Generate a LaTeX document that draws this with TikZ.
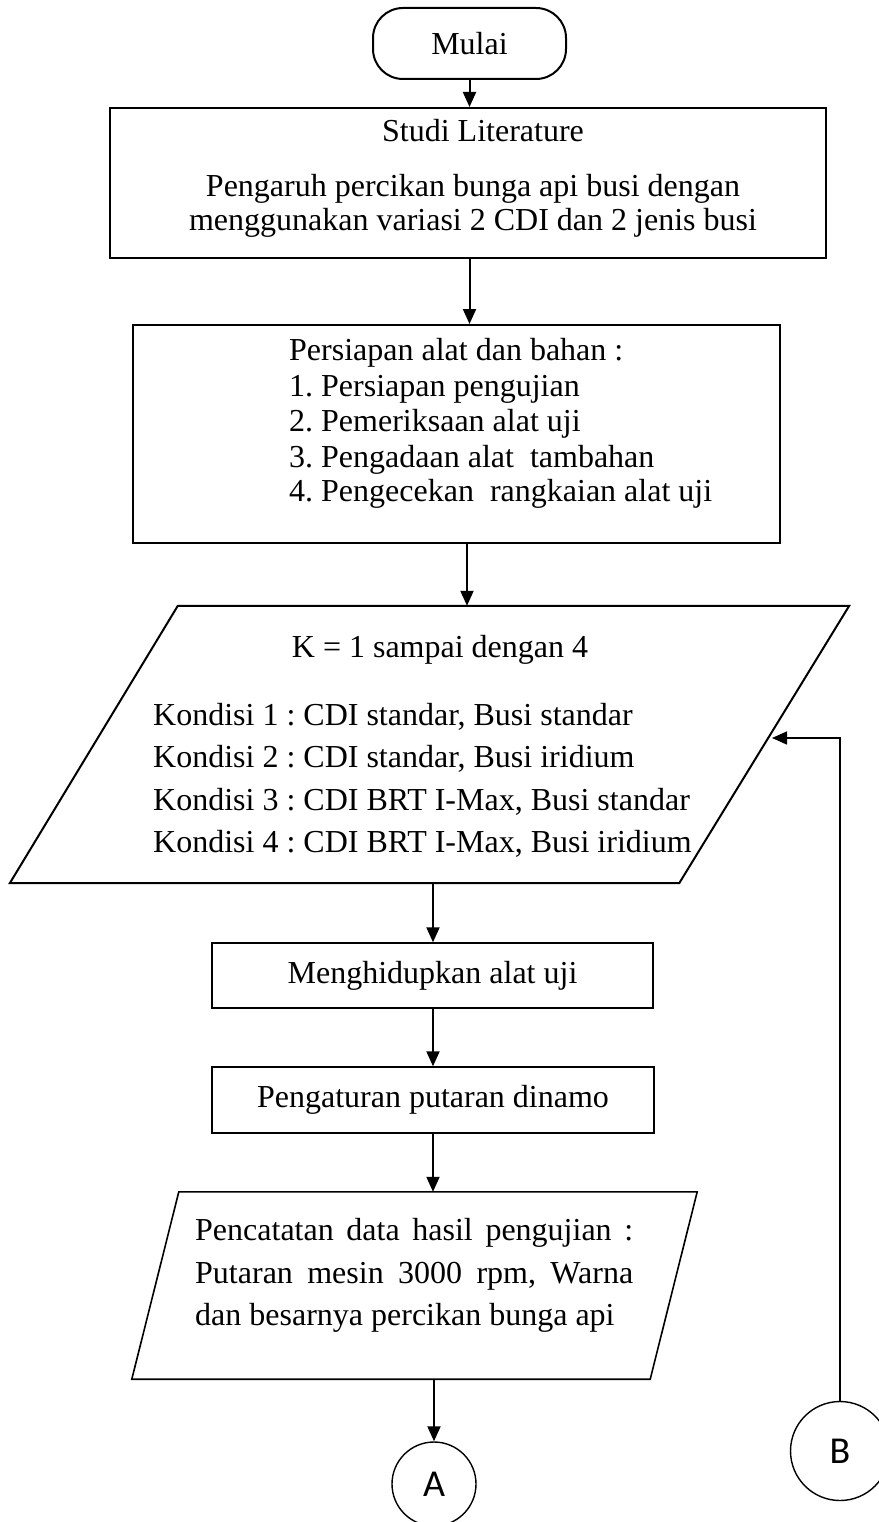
\documentclass[tikz,border=0pt]{standalone}
\usepackage{fontspec}
\setmainfont{Liberation Serif}
\newfontfamily\sansf{Carlito}
\usetikzlibrary{arrows.meta,calc}
\frenchspacing
\begin{document}
\begin{tikzpicture}[x=1pt,y=-1pt,
  box/.style={draw, line width=2pt, inner sep=0pt, font=\fontsize{32}{40}\selectfont},
  thinbox/.style={draw, line width=1.4pt, inner sep=0pt, font=\fontsize{32}{40}\selectfont},
  txt/.style={inner sep=0pt, font=\fontsize{32}{40}\selectfont},
  conn/.style={draw, circle, line width=1.4pt, inner sep=0pt, font=\sansf\fontsize{38}{40}\selectfont},
  arr/.style={line width=2pt, -{Triangle[length=15pt,width=13pt]}},
  shapeline/.style={line width=2pt, line join=miter},
  ]
\useasboundingbox (0,0) rectangle (878,1522);
\fill[white] (0,0) rectangle (878,1522);

% terminal
\node[box, rounded corners=30pt, minimum width=193pt, minimum height=71pt] (mulai) at (469.5,43.5) {Mulai};

% Studi literature
\node[box, minimum width=716pt, minimum height=150pt] (studi) at (468,183) {};
\node[txt, anchor=base] (s1) at (483,142) {Studi Literature};
\node[txt, anchor=base] (s2) at (473,197) {Pengaruh percikan bunga api busi dengan};
\node[txt, anchor=base] (s3) at (473,231) {menggunakan variasi 2 CDI dan 2 jenis busi};

% Persiapan
\node[box, minimum width=647pt, minimum height=218pt] (persiapan) at (456.5,434) {};
\node[txt, anchor=base west] (p0) at (289,360) {Persiapan alat dan bahan :};
\node[txt, anchor=base west] (p1) at (289,396) {1. Persiapan pengujian};
\node[txt, anchor=base west] (p2) at (289,431) {2. Pemeriksaan alat uji};
\node[txt, anchor=base west] (p3) at (289,467) {3. Pengadaan alat~ tambahan};
\node[txt, anchor=base west] (p4) at (289,501) {4. Pengecekan~ rangkaian alat uji};

% Input parallelogram 1
\node[inner sep=0pt, minimum width=839pt, minimum height=277pt] (par1) at (429.5,744.5) {};
\draw[shapeline] ($(par1.north west)+(168,0)$) -- (par1.north east)
  -- ($(par1.south east)+(-170,0)$) -- (par1.south west) -- cycle;
\node[txt, anchor=base] (k0) at (440,657) {K = 1 sampai dengan 4};
\node[txt, anchor=base west] (k1) at (153,725) {Kondisi 1 : CDI standar, Busi standar};
\node[txt, anchor=base west] (k2) at (153,767) {Kondisi 2 : CDI standar, Busi iridium};
\node[txt, anchor=base west] (k3) at (153,810) {Kondisi 3 : CDI BRT I-Max, Busi standar};
\node[txt, anchor=base west] (k4) at (153,852) {Kondisi 4 : CDI BRT I-Max, Busi iridium};

% process boxes
\node[thinbox, minimum width=441pt, minimum height=65pt] (hidup) at (432.5,975.5) {Menghidupkan alat uji};
\node[thinbox, minimum width=442pt, minimum height=66pt] (atur) at (433,1100) {Pengaturan putaran dinamo};

% parallelogram 2
\node[inner sep=0pt, minimum width=565pt, minimum height=187pt] (par2) at (414.5,1285.5) {};
\draw[line width=1.6pt, line join=miter] ($(par2.north west)+(47,0)$) -- (par2.north east)
  -- ($(par2.south east)+(-47,0)$) -- (par2.south west) -- cycle;
\node[txt, anchor=base west] (c1) at (195,1240) {\makebox[438pt][s]{Pencatatan data hasil pengujian :}};
\node[txt, anchor=base west] (c2) at (195,1283) {\makebox[438pt][s]{Putaran mesin 3000 rpm, Warna}};
\node[txt, anchor=base west] (c3) at (195,1325) {dan besarnya percikan bunga api};

% connectors
\node[conn, minimum size=84pt] (A) at (434,1484) {A};
\node[conn, minimum size=99pt] (B) at (840,1451) {B};

\coordinate (cx3) at (467,0);
\coordinate (cx4) at (433,0);
\coordinate (fb) at (772,738);

\draw[arr] (mulai.south) -- (studi.north -| mulai.south);
\draw[arr] (studi.south -| mulai.south) -- (persiapan.north -| mulai.south);
\draw[arr] (persiapan.south -| cx3) -- (par1.north -| cx3);
\draw[arr] (par1.south -| cx4) -- (hidup.north -| cx4);
\draw[arr] (hidup.south -| cx4) -- (atur.north -| cx4);
\draw[arr] (atur.south -| cx4) -- (par2.north -| cx4);
\draw[arr] (par2.south -| A.north) -- (A.north);
\draw[arr, line width=1.6pt] (B.north) |- (fb);
\end{tikzpicture}
\end{document}
